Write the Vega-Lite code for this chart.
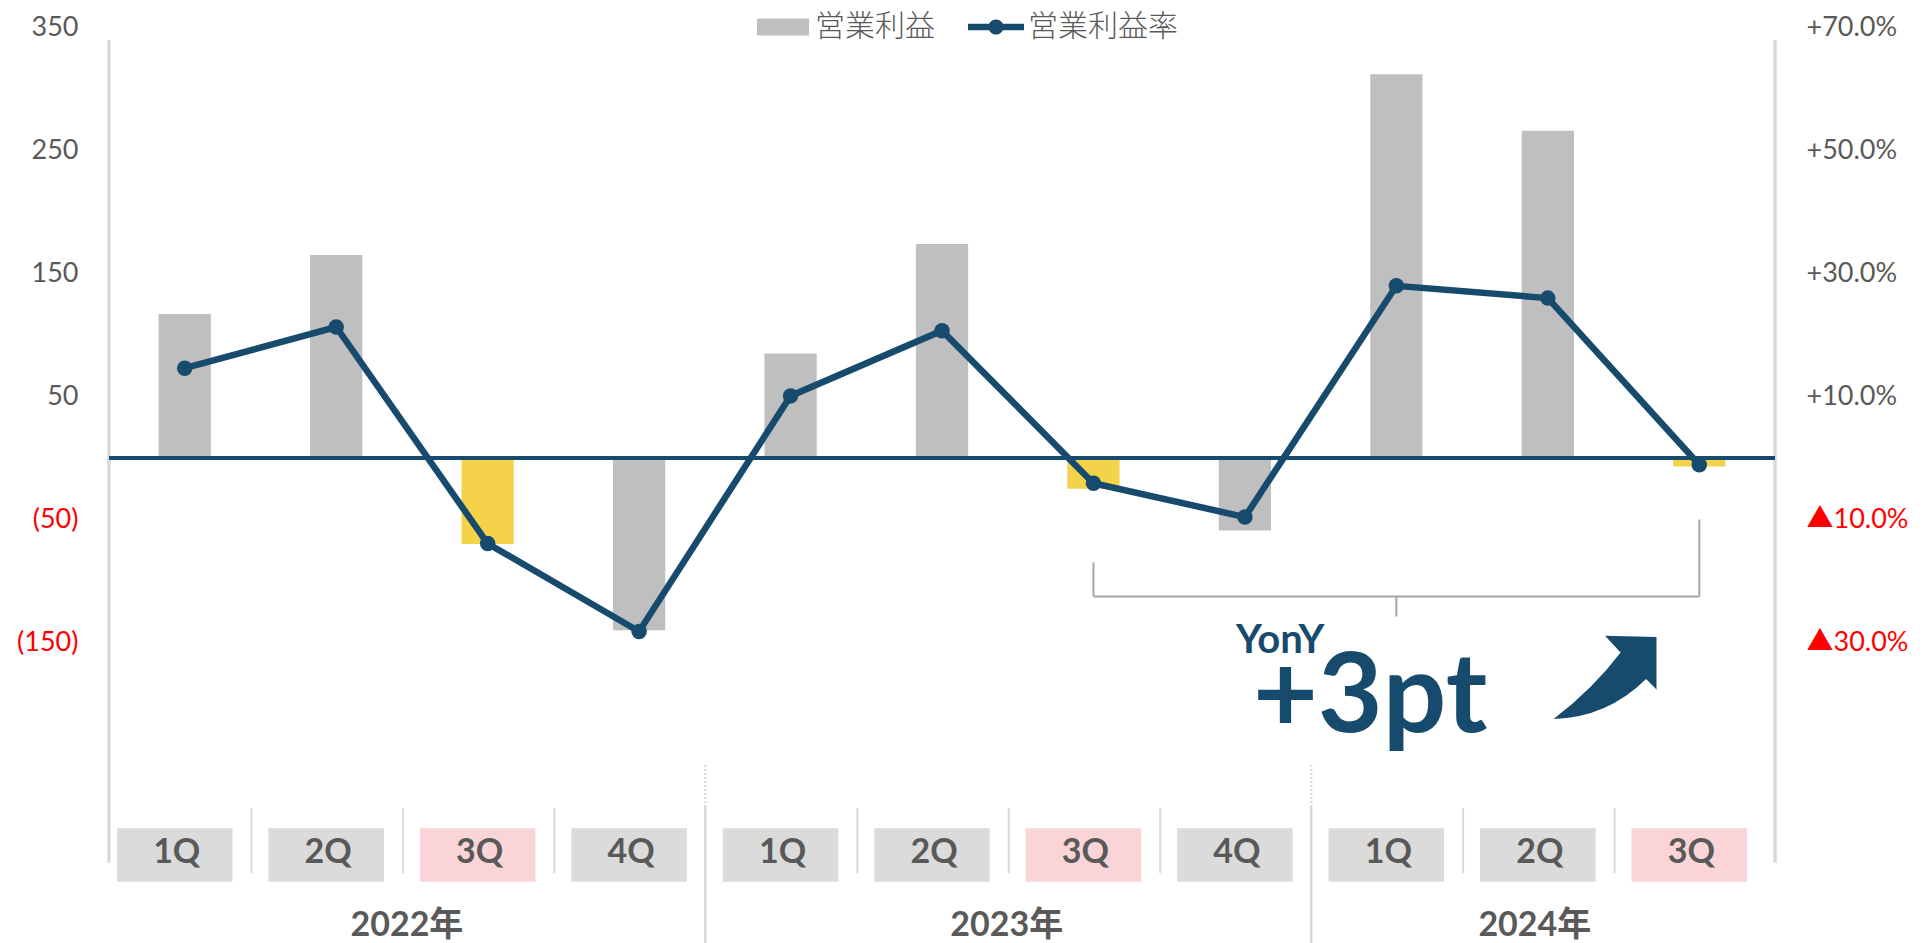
{
  "$schema": "https://vega.github.io/schema/vega-lite/v6.json",
  "width": 1666,
  "height": 943,
  "autosize": {"type": "none"},
  "padding": {"left": 109, "top": 0, "right": 151, "bottom": 0},
  "background": "white",
  "config": {"view": {"stroke": null}},
  "data": {"values": [
    {"cat": "2022 1Q", "year": "2022", "q": "1Q", "profit": 117, "margin": 14.6},
    {"cat": "2022 2Q", "year": "2022", "q": "2Q", "profit": 165, "margin": 21.3},
    {"cat": "2022 3Q", "year": "2022", "q": "3Q", "profit": -70, "margin": -13.9},
    {"cat": "2022 4Q", "year": "2022", "q": "4Q", "profit": -140, "margin": -28.2},
    {"cat": "2023 1Q", "year": "2023", "q": "1Q", "profit": 85, "margin": 10.1},
    {"cat": "2023 2Q", "year": "2023", "q": "2Q", "profit": 174, "margin": 20.7},
    {"cat": "2023 3Q", "year": "2023", "q": "3Q", "profit": -25, "margin": -4.1},
    {"cat": "2023 4Q", "year": "2023", "q": "4Q", "profit": -59, "margin": -9.6},
    {"cat": "2024 1Q", "year": "2024", "q": "1Q", "profit": 312, "margin": 28.0},
    {"cat": "2024 2Q", "year": "2024", "q": "2Q", "profit": 266, "margin": 26.0},
    {"cat": "2024 3Q", "year": "2024", "q": "3Q", "profit": -7, "margin": -1.1}
  ]},
  "layer": [
    {
      "layer": [
        {
          "mark": {"type": "bar", "width": {"band": 0.345}},
          "encoding": {
            "x": {"field": "cat", "type": "nominal", "sort": null, "axis": null,
                  "scale": {"type": "band", "domain": ["2022 1Q","2022 2Q","2022 3Q","2022 4Q","2023 1Q","2023 2Q","2023 3Q","2023 4Q","2024 1Q","2024 2Q","2024 3Q"], "paddingInner": 0, "paddingOuter": 0}},
            "y": {"field": "profit", "type": "quantitative",
                  "scale": {"domain": [-394.3, 372.36], "nice": false, "zero": false},
                  "axis": {
                    "orient": "left", "values": [350, 250, 150, 50, -50, -150], "title": null,
                    "domain": false, "ticks": false, "tickSize": 0, "grid": false,
                    "labelPadding": 31, "labelFont": "Lato", "labelFontSize": 27,
                    "labelColor": {"condition": {"test": "datum.value < 0", "value": "#FF0000"}, "value": "#595959"},
                    "labelExpr": "datum.value < 0 ? '(' + format(-datum.value, 'd') + ')' : format(datum.value, 'd') + '\u00a0'"
                  }},
            "color": {
              "datum": "営業利益",
              "condition": {"test": "datum.q == '3Q'", "value": "#F4D34B"},
              "scale": {"domain": ["営業利益", "営業利益率"], "range": ["#BFBFBF", "#174B6D"]},
              "legend": {
                "orient": "none", "legendX": 646, "legendY": -1, "direction": "horizontal", "title": null,
                "symbolSize": 3136, "symbolStrokeWidth": 0, "padding": 0,
                "labelFont": "Noto Sans CJK JP", "labelFontSize": 30, "labelFontWeight": 300, "labelColor": "#595959",
                "labelOffset": 4, "columnPadding": 33,
                "encode": {"symbols": {"update": {
                  "shape": {"signal": "datum.value === '営業利益' ? 'M-0.93,-0.3H0.93V0.3H-0.93Z' : 'M-1,-0.12H1V0.12H-1Z M-0.27,0A0.27,0.27 0 1,1 0.27,0A0.27,0.27 0 1,1 -0.27,0Z'"},
                  "fill": {"signal": "datum.value === '営業利益' ? '#BFBFBF' : '#174B6D'"},
                  "stroke": {"value": "transparent"},
                  "opacity": {"value": 1}
                }}}
              }
            }
          }
        },
        {
          "data": {"values": [{}]},
          "mark": {"type": "rule", "color": "#D9D9D9", "strokeWidth": 3.5},
          "encoding": {
            "x": {"datum": "2022 1Q", "bandPosition": 0},
            "y": {"datum": 339.8},
            "y2": {"datum": -329}
          }
        },
        {
          "data": {"values": [{}]},
          "mark": {"type": "rule", "color": "#D9D9D9", "strokeWidth": 3.5},
          "encoding": {
            "x": {"datum": "2024 3Q", "bandPosition": 1},
            "y": {"datum": 339.8},
            "y2": {"datum": -329}
          }
        },
        {
          "mark": {"type": "bar", "width": {"band": 0.763}, "xOffset": -10},
          "encoding": {
            "x": {"field": "cat", "type": "nominal", "sort": null},
            "y": {"datum": -301},
            "y2": {"datum": -344.5},
            "color": {"condition": {"test": "datum.q == '3Q'", "value": "#FAD4D6"}, "value": "#DBDBDB"}
          }
        },
        {
          "mark": {"type": "text", "font": "Lato", "fontWeight": "bold", "fontSize": 34, "color": "#595959", "baseline": "alphabetic", "xOffset": -8},
          "encoding": {
            "x": {"field": "cat", "type": "nominal", "sort": null},
            "y": {"datum": -329.5},
            "text": {"field": "q"}
          }
        },
        {
          "transform": [{"filter": "datum.q != '1Q'"}],
          "mark": {"type": "rule", "color": "#D9D9D9", "strokeWidth": 2, "xOffset": -9},
          "encoding": {
            "x": {"field": "cat", "type": "nominal", "sort": null, "bandPosition": 0},
            "y": {"datum": -284.5},
            "y2": {"datum": -337.4}
          }
        },
        {
          "transform": [{"filter": "datum.q == '1Q' && datum.year != '2022'"}],
          "mark": {"type": "rule", "color": "#D9D9D9", "strokeWidth": 2.5, "xOffset": -9.5},
          "encoding": {
            "x": {"field": "cat", "type": "nominal", "sort": null, "bandPosition": 0},
            "y": {"datum": -282.1},
            "y2": {"datum": -394.3}
          }
        },
        {
          "transform": [{"filter": "datum.q == '1Q' && datum.year != '2022'"}],
          "mark": {"type": "rule", "color": "#DDDDDD", "strokeWidth": 2.5, "strokeDash": [2, 2], "xOffset": -9.5},
          "encoding": {
            "x": {"field": "cat", "type": "nominal", "sort": null, "bandPosition": 0},
            "y": {"datum": -249.6},
            "y2": {"datum": -282.1}
          }
        },
        {
          "data": {"values": [{}]},
          "mark": {"type": "text", "text": "2022年", "font": "Lato, Noto Sans CJK JP", "fontWeight": "bold", "fontSize": 34, "color": "#595959", "baseline": "alphabetic", "xOffset": -5},
          "encoding": {
            "x": {"datum": "2022 2Q", "bandPosition": 1},
            "y": {"datum": -389}
          }
        },
        {
          "data": {"values": [{}]},
          "mark": {"type": "text", "text": "2023年", "font": "Lato, Noto Sans CJK JP", "fontWeight": "bold", "fontSize": 34, "color": "#595959", "baseline": "alphabetic", "xOffset": -11},
          "encoding": {
            "x": {"datum": "2023 2Q", "bandPosition": 1},
            "y": {"datum": -389}
          }
        },
        {
          "data": {"values": [{}]},
          "mark": {"type": "text", "text": "2024年", "font": "Lato, Noto Sans CJK JP", "fontWeight": "bold", "fontSize": 34, "color": "#595959", "baseline": "alphabetic", "xOffset": -13},
          "encoding": {
            "x": {"datum": "2024 2Q"},
            "y": {"datum": -389}
          }
        },
        {
          "data": {"values": [{}]},
          "mark": {"type": "rule", "color": "#A6A6A6", "strokeWidth": 2},
          "encoding": {
            "x": {"datum": "2023 3Q"},
            "y": {"datum": -84.8},
            "y2": {"datum": -112.5}
          }
        },
        {
          "data": {"values": [{}]},
          "mark": {"type": "rule", "color": "#A6A6A6", "strokeWidth": 2},
          "encoding": {
            "x": {"datum": "2024 3Q"},
            "y": {"datum": -50},
            "y2": {"datum": -112.5}
          }
        },
        {
          "data": {"values": [{}]},
          "mark": {"type": "rule", "color": "#A6A6A6", "strokeWidth": 2},
          "encoding": {
            "x": {"datum": "2023 3Q"},
            "x2": {"datum": "2024 3Q"},
            "y": {"datum": -112.5}
          }
        },
        {
          "data": {"values": [{}]},
          "mark": {"type": "rule", "color": "#A6A6A6", "strokeWidth": 2},
          "encoding": {
            "x": {"datum": "2024 1Q"},
            "y": {"datum": -112.5},
            "y2": {"datum": -129}
          }
        },
        {
          "data": {"values": [{}]},
          "mark": {"type": "text", "text": "YonY", "font": "Lato", "fontWeight": "bold", "fontSize": 40, "color": "#174B6D", "align": "left", "baseline": "alphabetic", "xOffset": -9},
          "encoding": {
            "x": {"datum": "2023 4Q"},
            "y": {"datum": -158.5}
          }
        },
        {
          "data": {"values": [{}]},
          "mark": {"type": "text", "text": "+3pt", "font": "Lato", "fontWeight": "bold", "fontSize": 112, "color": "#174B6D", "align": "left", "baseline": "alphabetic", "xOffset": 8},
          "encoding": {
            "x": {"datum": "2023 4Q"},
            "y": {"datum": -223}
          }
        },
        {
          "data": {"values": [{}]},
          "mark": {"type": "point", "filled": true, "opacity": 1, "color": "#174B6D", "strokeWidth": 0, "size": 10816, "xOffset": 57.2,
                   "shape": "M-0.99,0.8Q0.04,0.77 0.79,0.03L0.99,0.23L0.99,-0.78L0,-0.8L0.3,-0.48Q-0.23,0.22 -0.99,0.8Z"},
          "encoding": {
            "x": {"datum": "2024 2Q"},
            "y": {"datum": -178.4}
          }
        },
        {
          "data": {"values": [{}]},
          "mark": {"type": "rule", "color": "#174B6D", "strokeWidth": 4},
          "encoding": {
            "y": {"datum": 0}
          }
        }
      ]
    },
    {
      "mark": {"type": "line", "strokeWidth": 6.5, "point": {"filled": true, "size": 240, "strokeWidth": 0, "opacity": 1}},
      "encoding": {
        "x": {"field": "cat", "type": "nominal", "sort": null},
        "y": {"field": "margin", "type": "quantitative",
              "scale": {"domain": [-78.86, 74.472], "nice": false, "zero": false},
              "axis": {
                "orient": "right", "values": [70, 50, 30, 10, -10, -30], "title": null,
                "domain": false, "ticks": false, "tickSize": 0, "grid": false,
                "labelPadding": 31, "labelFont": "Lato, Noto Sans CJK JP", "labelFontSize": 27,
                "labelColor": {"condition": {"test": "datum.value < 0", "value": "#FF0000"}, "value": "#595959"},
                "labelExpr": "datum.value < 0 ? '▲' + format(-datum.value, '.1f') + '%' : '+' + format(datum.value, '.1f') + '%'"
              }},
        "color": {"datum": "営業利益率"}
      }
    }
  ],
  "resolve": {"scale": {"y": "independent"}}
}
